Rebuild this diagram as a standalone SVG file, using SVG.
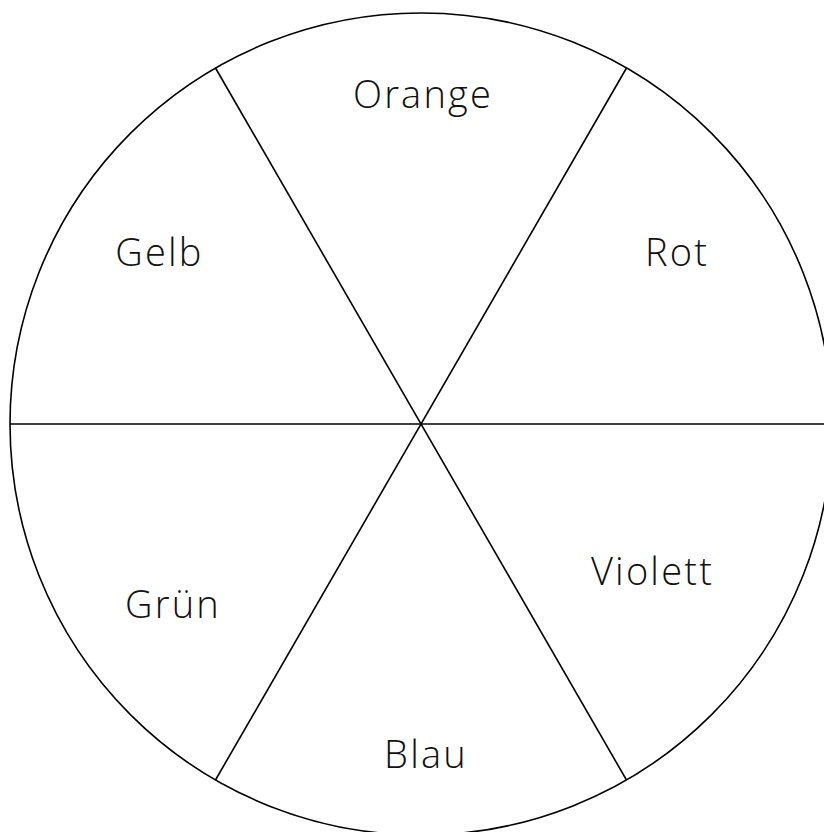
<svg xmlns="http://www.w3.org/2000/svg" width="824" height="832" viewBox="0 0 824 832">
<style>
.ln{fill:none;stroke:#000;stroke-width:1.6}
.lb{font-family:"Open Sans",Lato,"Liberation Sans",sans-serif;font-size:38px;font-weight:350;letter-spacing:2.2px;fill:#111;text-anchor:middle}
</style>
<rect width="824" height="832" fill="#fff"/>
<g id="connectors">
<circle class="ln" cx="421" cy="424" r="411"/>
<line class="ln" x1="10" y1="424" x2="832" y2="424"/>
<line class="ln" x1="215.5" y1="68" x2="626.5" y2="780"/>
<line class="ln" x1="626.5" y1="68" x2="215.5" y2="780"/>
</g>
<g id="orange"><text class="lb" x="423" y="108">Orange</text></g>
<g id="rot"><text class="lb" x="677" y="266">Rot</text></g>
<g id="gelb"><text class="lb" x="159.5" y="266">Gelb</text></g>
<g id="gruen"><text class="lb" x="173" y="618">Grün</text></g>
<g id="violett"><text class="lb" x="652.5" y="585">Violett</text></g>
<g id="blau"><text class="lb" x="426" y="768">Blau</text></g>
</svg>
